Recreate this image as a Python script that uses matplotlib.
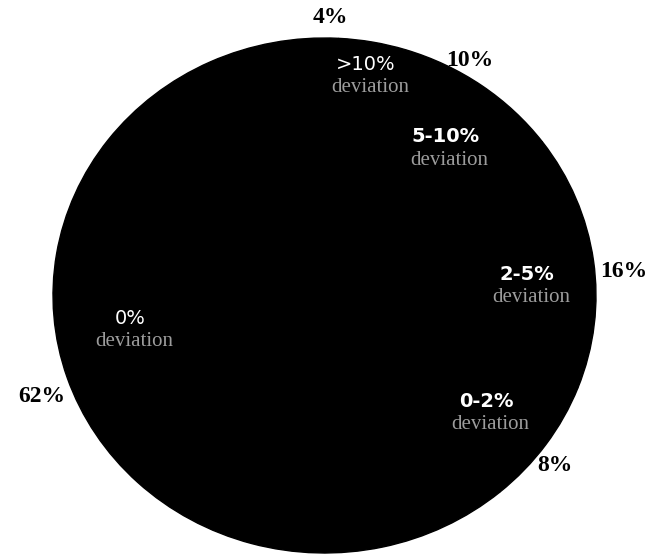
import matplotlib.pyplot as plt
import numpy as np

# share of cases per deviation band, clockwise from the top
shares = [4, 10, 16, 8, 62]
pct_labels = ['4%', '10%', '16%', '8%', '62%']
band_labels = ['>10%', '5-10%', '2-5%', '0-2%', '0%']
sub_labels = ['deviation', 'deviation', 'deviation', 'deviation', 'deviation']

# label placement tweaks (radius in pie units, angle nudge in degrees)
inner_r = [0.91, 0.76, 0.75, 0.725, 0.72]
inner_nudge = [0.6, -0.5, -1.5, 0.8, -11.6]
outer_r = [1.08, 1.06, 1.105, 1.074, 1.114]
outer_nudge = [9, 5, -3, -2.5, 2]
band_weight = ['normal', 'bold', 'bold', 'bold', 'normal']

fig = plt.figure(figsize=(6.5, 5.55), dpi=100)
fig.patch.set_facecolor('white')
ax = fig.add_axes([53 / 650, 2 / 555, 543 / 650, 515 / 555])

wedges, _ = ax.pie(shares, colors=['black'] * len(shares), startangle=87,
                   counterclock=False,
                   wedgeprops=dict(edgecolor='black', linewidth=1))
# the scanned pie is slightly squashed, so drop the forced circle
ax.set_aspect('auto')
ax.set_xlim(-1, 1)
ax.set_ylim(-1, 1)

for i, w in enumerate(wedges):
    mid = np.deg2rad((w.theta1 + w.theta2) / 2)
    a_in = mid + np.deg2rad(inner_nudge[i])
    a_out = mid + np.deg2rad(outer_nudge[i])
    x, y = inner_r[i] * np.cos(a_in), inner_r[i] * np.sin(a_in)
    ax.text(x, y, band_labels[i], color='white', ha='center', va='center',
            fontsize=14, fontweight=band_weight[i], family='DejaVu Sans')
    ax.text(x + 0.015, y - 0.09, sub_labels[i], color='#9c9c9c', ha='center',
            va='center', fontsize=15, family='Liberation Serif')
    ax.text(outer_r[i] * np.cos(a_out), outer_r[i] * np.sin(a_out),
            pct_labels[i], color='black', ha='center', va='center',
            fontsize=17, fontweight='bold', family='Liberation Serif')

fig.savefig('out.png', dpi=100)
